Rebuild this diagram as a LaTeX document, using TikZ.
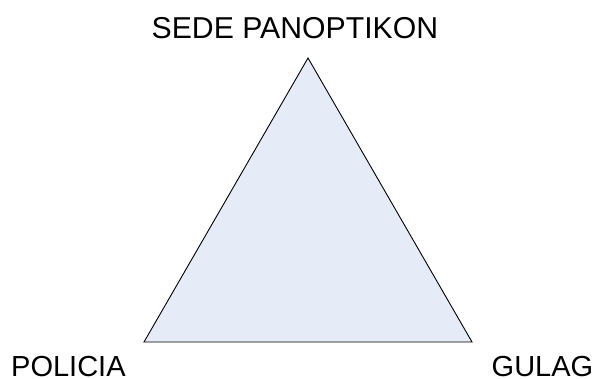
\documentclass[tikz,border=0pt]{standalone}
\usepackage{fontspec}
\setmainfont{Liberation Sans}
\definecolor{trifill}{RGB}{230,236,247}
\begin{document}
\begin{tikzpicture}[x=1pt,y=-1pt,
  lbl/.style={anchor=base west,inner sep=0pt,font=\fontsize{29}{33}\selectfont},
  tri/.style={draw=black,fill=trifill,line width=0.9pt,line join=miter}]
\useasboundingbox (0,0) rectangle (599,379);
\coordinate (apex) at (308,58);
\coordinate (bl) at (144,342);
\coordinate (br) at (472,342);
\draw[tri] (apex) -- (br) -- (bl) -- cycle;
\node[lbl,font=\fontsize{30.2}{34}\selectfont] (sede) at (151.5,39) {SEDE PANOPTIKON};
\node[lbl] (policia) at (11,376.5) {POLICIA};
\node[lbl] (gulag) at (491.5,376.5) {GULAG};
\end{tikzpicture}
\end{document}
